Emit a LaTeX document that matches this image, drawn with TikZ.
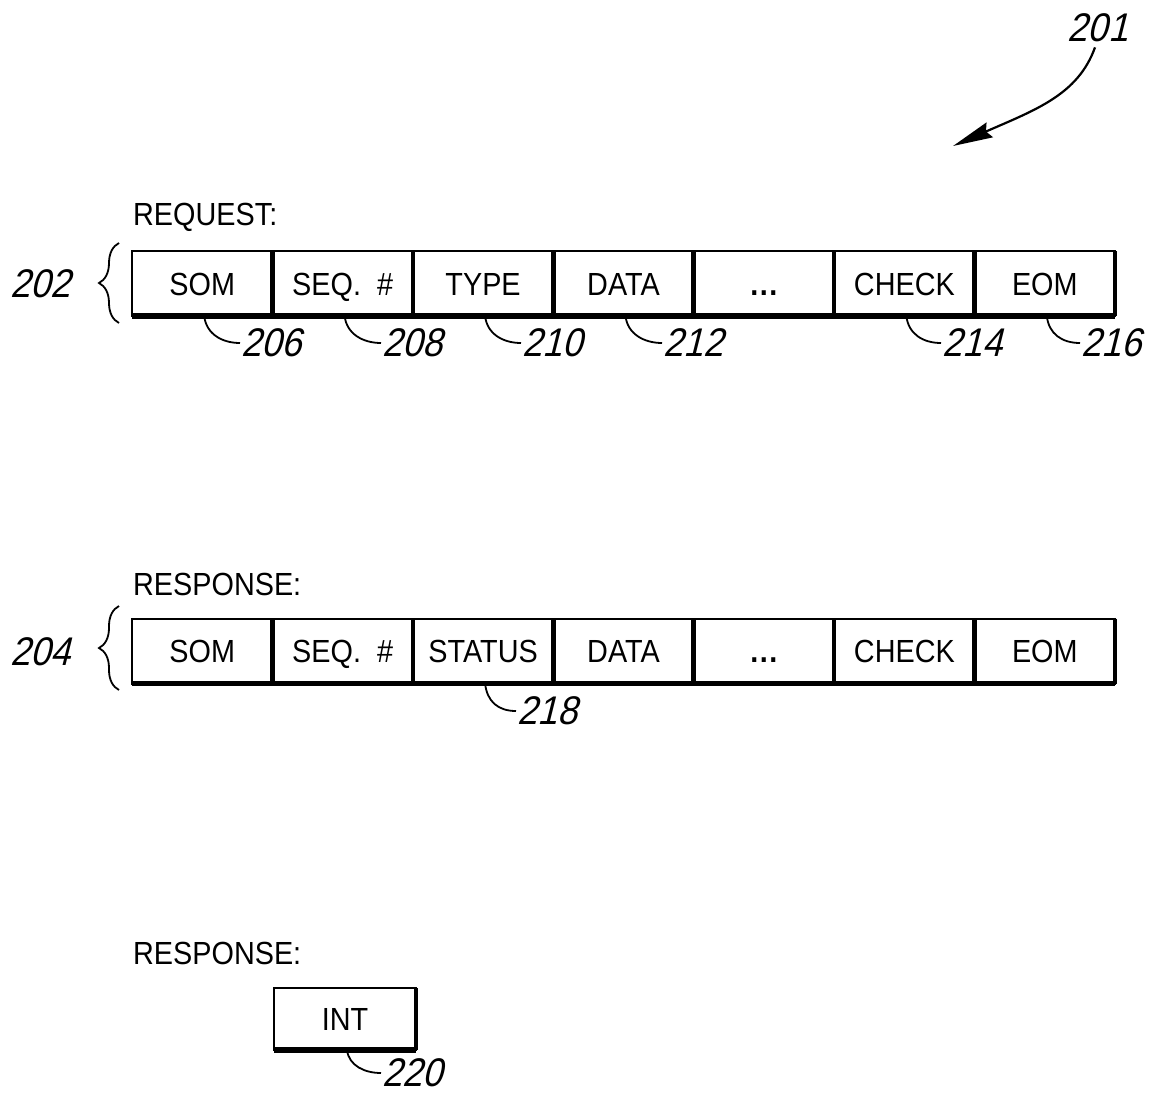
\documentclass[tikz,border=0pt]{standalone}
\usepackage{fontspec}
\setmainfont{Liberation Sans}[FakeStretch=0.9]
\newfontfamily\numfont{Liberation Sans}[FakeSlant=0.25,FakeStretch=0.9]
\usetikzlibrary{decorations.pathreplacing,arrows.meta}
\newcommand{\tdots}{\textbf{.\kern1.5pt.\kern1.5pt.}}
\begin{document}
\begin{tikzpicture}[x=1pt,y=-1pt,
  cell/.style={draw, line width=2pt, minimum width=140.43pt, minimum height=65pt,
    inner sep=0pt, outer sep=0pt, anchor=west, text height=23pt, text depth=0pt,
    font=\fontsize{32}{38}\selectfont},
  heavy/.style={line width=4.5pt},
  heavier/.style={line width=5.5pt},
  num/.style={font=\numfont\fontsize{40}{46}\selectfont, inner sep=1pt, anchor=west},
  lbl/.style={font=\fontsize{32}{38}\selectfont, anchor=west, inner sep=0pt},
  leader/.style={line width=1.8pt},
  brc/.style={decorate, decoration={brace, amplitude=20pt}, line width=1.8pt}]
\useasboundingbox (0,0) rectangle (1156,1094);

% ---------- REQUEST ----------
\node[lbl] (req) at (133,217) {REQUEST:};
\node[cell] (a1) at (132,283.5) {SOM};
\node[cell] (a2) at (a1.east) {SEQ.\ \ \#};
\node[cell] (a3) at (a2.east) {TYPE};
\node[cell] (a4) at (a3.east) {DATA};
\node[cell] (a5) at (a4.east) {\tdots};
\node[cell] (a6) at (a5.east) {CHECK};
\node[cell] (a7) at (a6.east) {EOM};
\draw[heavier] (a1.south west) -- (a7.south east);
\foreach \c in {a1,a2,a3,a4,a5,a6,a7} \draw[heavy] (\c.north east) -- (\c.south east);

\node[num, anchor=center] (n202) at (41,284) {202};
\draw[brc] (119,323) -- (119,243);

\node[num] (n206) at (240,343) {206};
\node[num] (n208) at (381,343) {208};
\node[num] (n210) at (521,343) {210};
\node[num] (n212) at (662,343) {212};
\node[num] (n214) at (941,343) {214};
\node[num] (n216) at (1080,343) {216};
\draw[leader] ([xshift=2pt]a1.south) .. controls +(2,18) and +(-18,0) .. (n206.west);
\draw[leader] ([xshift=2pt]a2.south) .. controls +(2,18) and +(-18,0) .. (n208.west);
\draw[leader] ([xshift=2pt]a3.south) .. controls +(2,18) and +(-18,0) .. (n210.west);
\draw[leader] ([xshift=2pt]a4.south) .. controls +(2,18) and +(-18,0) .. (n212.west);
\draw[leader] ([xshift=2pt]a6.south) .. controls +(2,18) and +(-18,0) .. (n214.west);
\draw[leader] ([xshift=2pt]a7.south) .. controls +(2,18) and +(-18,0) .. (n216.west);

% ---------- RESPONSE ----------
\node[lbl] (resp1) at (133,584) {RESPONSE:};
\node[cell] (b1) at (132,651) {SOM};
\node[cell] (b2) at (b1.east) {SEQ.\ \ \#};
\node[cell] (b3) at (b2.east) {STATUS};
\node[cell] (b4) at (b3.east) {DATA};
\node[cell] (b5) at (b4.east) {\tdots};
\node[cell] (b6) at (b5.east) {CHECK};
\node[cell] (b7) at (b6.east) {EOM};
\draw[heavier] (b1.south west) -- (b7.south east);
\foreach \c in {b1,b2,b3,b4,b5,b6,b7} \draw[heavy] (\c.north east) -- (\c.south east);

\node[num, anchor=center] (n204) at (41,652) {204};
\draw[brc] (119,690) -- (119,606);

\node[num] (n218) at (516,711) {218};
\draw[leader] ([xshift=2pt]b3.south) .. controls +(2,18) and +(-18,0) .. (n218.west);

% ---------- RESPONSE (INT) ----------
\node[lbl] (resp2) at (133,953) {RESPONSE:};
\node[cell, minimum width=142pt, minimum height=62pt] (c1) at (274,1019) {INT};
\draw[heavier] (c1.south west) -- (c1.south east);
\draw[heavy] (c1.north east) -- (c1.south east);
\node[num] (n220) at (381,1073) {220};
\draw[leader] ([xshift=2pt]c1.south) .. controls +(2,16) and +(-16,0) .. (n220.west);

% ---------- 201 ----------
\node[num, anchor=center] (n201) at (1098,28) {201};
\coordinate (tip201) at (953,146);
\draw[line width=2.2pt, -{Stealth[length=40pt,width=16pt,inset=4pt]}]
  ([xshift=-3pt,yshift=-4pt]n201.south) .. controls (1078,95) and (1035,110) .. (tip201);
\end{tikzpicture}
\end{document}
